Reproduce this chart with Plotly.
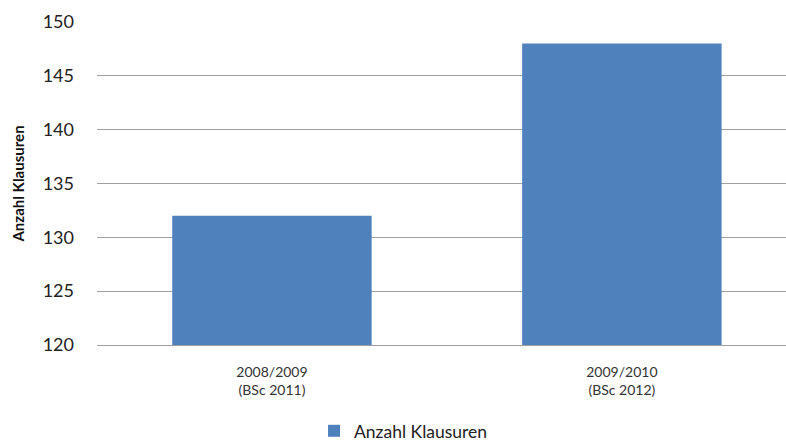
import plotly.graph_objects as go

categories = ["2008/2009<br>(BSc 2011)", "2009/2010<br>(BSc 2012)"]
klausuren = [132, 148]
y_ticks = [120, 125, 130, 135, 140, 145, 150]

BAR_COLOR = "#4F81BD"
GRID = "#A0A0A0"
FONT = "Lato, 'Open Sans', sans-serif"

fig = go.Figure()
fig.add_trace(
    go.Bar(
        x=categories,
        y=klausuren,
        name="Anzahl Klausuren",
        marker=dict(color=BAR_COLOR, line=dict(width=0)),
        width=0.57,
        showlegend=True,
    )
)

fig.update_layout(
    width=786,
    height=441,
    paper_bgcolor="white",
    plot_bgcolor="white",
    font=dict(family=FONT, color="#222222"),
    margin=dict(l=97, r=0, t=22, b=96, autoexpand=False),
    showlegend=True,
    legend=dict(
        orientation="h",
        x=0.315,
        xanchor="left",
        y=-0.266,
        yanchor="middle",
        font=dict(size=17.5, color="#222222"),
        itemwidth=30,
    ),
    xaxis=dict(
        range=[-0.5, 1.469],
        showgrid=False,
        showline=True,
        linecolor=GRID,
        linewidth=1,
        ticks="",
        tickfont=dict(size=14, color="#333333"),
        ticklabelstandoff=14,
    ),
    yaxis=dict(
        range=[120, 150],
        tickvals=y_ticks,
        showgrid=True,
        gridcolor=GRID,
        gridwidth=1,
        zeroline=False,
        showline=False,
        ticks="",
        tickfont=dict(size=18, color="#222222"),
        ticklabelstandoff=22,
        title=dict(text="<b>Anzahl Klausuren</b>", font=dict(size=15, color="#111111"), standoff=14),
    ),
)

# drop the default 8px body margin so the figure sits at the page corner
fig.write_html(
    "out.html",
    config={"displayModeBar": False},
    post_script="document.body.style.margin='0';",
)
